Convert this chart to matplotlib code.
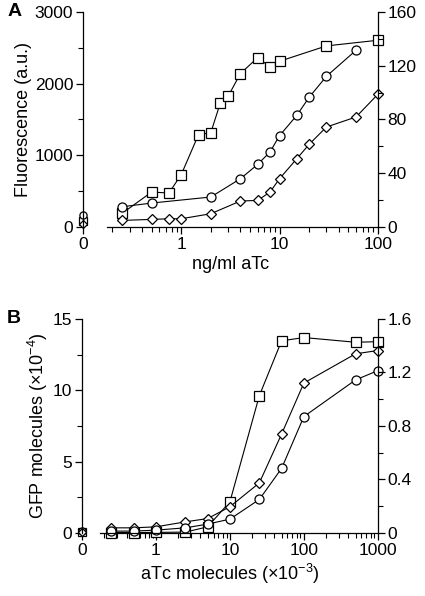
import matplotlib
matplotlib.use("Agg")
import matplotlib.pyplot as plt
from matplotlib.ticker import FixedLocator, LogLocator, NullFormatter, MultipleLocator

plt.rcParams['font.family'] = ['Liberation Sans', 'DejaVu Sans']
plt.rcParams['mathtext.fontset'] = 'custom'
plt.rcParams['mathtext.rm'] = 'Liberation Sans'
plt.rcParams['mathtext.it'] = 'Liberation Sans'

# ---- panel A: fluorescence vs ng/ml aTc ----
a_sq_x = [0.25, 0.5, 0.75, 1, 1.5, 2, 2.5, 3, 4, 6, 8, 10, 30, 100]
a_sq_y = [190, 488, 475, 730, 1288, 1316, 1730, 1823, 2140, 2363, 2233, 2312, 2526, 2605]
a_ci_x = [0.25, 0.5, 2, 4, 6, 8, 10, 15, 20, 30, 60]
a_ci_y = [283, 335, 419, 674, 874, 1047, 1274, 1558, 1809, 2102, 2465]
a_di_x = [0.25, 0.5, 0.75, 1, 2, 4, 6, 8, 10, 15, 20, 30, 60, 100]
a_di_y = [93, 107, 116, 116, 186, 363, 372, 488, 674, 953, 1153, 1395, 1535, 1851]
a_zero = {'s': 90, 'o': 170, 'D': 40}   # values at 0 ng/ml

# ---- panel B: GFP molecules vs aTc molecules ----
b_x = [0.25, 0.5, 1, 2.5, 5, 10, 25, 50, 100, 500, 1000]
b_sq_y = [0.02, 0.02, 0.03, 0.05, 0.42, 2.18, 9.62, 13.46, 13.69, 13.36, 13.40]
b_di_y = [0.35, 0.35, 0.42, 0.77, 1.0, 1.83, 3.5, 6.93, 10.5, 12.55, 12.78]
b_ci_y = [0.12, 0.12, 0.19, 0.35, 0.61, 0.96, 2.34, 4.52, 8.15, 10.72, 11.37]
b_zero = {'s': 0.05, 'o': 0.1, 'D': 0.08}

ZERO = 0.1  # where the "0" concentration sits on the log axis

fig = plt.figure(figsize=(4.25, 5.96), dpi=100)
axA = fig.add_axes([0.195, 0.619, 0.694, 0.361])
axB = fig.add_axes([0.193, 0.106, 0.696, 0.359])

mk = dict(color='black', lw=0.8, mfc='white', mec='black', mew=0.9, clip_on=False)
sizes = {'s': 6.5, 'o': 6.5, 'D': 5}


def style(ax, xmax, ylim, ymajor, yminor, rlim, rmajor, rminor, xlabel, ylabel, letter):
    ax.set_xscale('log')
    ax.set_xlim(ZERO, xmax)
    ax.set_ylim(*ylim)
    ax.spines['top'].set_visible(False)
    ax.spines['right'].set_visible(False)
    ax.spines['bottom'].set_bounds(0.175, xmax)
    ax.spines['left'].set_linewidth(0.9)
    ax.spines['bottom'].set_linewidth(0.9)
    decades = [1, 10, 100, 1000]
    decades = [d for d in decades if d <= xmax]
    ax.xaxis.set_major_locator(FixedLocator([ZERO] + decades))
    ax.set_xticklabels(['0'] + [str(d) for d in decades])
    ax.xaxis.set_minor_locator(LogLocator(base=10, subs=range(2, 10), numticks=20))
    ax.xaxis.set_minor_formatter(NullFormatter())
    ax.yaxis.set_major_locator(MultipleLocator(ymajor))
    ax.yaxis.set_minor_locator(MultipleLocator(yminor))
    ax.tick_params(which='major', length=5, width=0.9, labelsize=12.5, direction='out', pad=2)
    ax.tick_params(which='minor', length=3.5, width=0.8, direction='out')
    ax.set_xlabel(xlabel, fontsize=13, labelpad=3)
    ax.set_ylabel(ylabel, fontsize=13, labelpad=2)

    tw = ax.twinx()
    tw.set_ylim(*rlim)
    for s in ['top', 'left', 'bottom']:
        tw.spines[s].set_visible(False)
    tw.spines['right'].set_linewidth(0.9)
    tw.yaxis.set_major_locator(MultipleLocator(rmajor))
    tw.yaxis.set_minor_locator(MultipleLocator(rminor))
    tw.tick_params(which='major', length=5, width=0.9, labelsize=12.5, direction='out', pad=2)
    tw.tick_params(which='minor', length=3.5, width=0.8, direction='out')
    ax.text(-0.255, 1.0, letter, transform=ax.transAxes, fontsize=14,
            fontweight='bold', va='center', ha='left')
    return tw


# panel A
axA.plot(a_sq_x, a_sq_y, marker='s', ms=sizes['s'], **mk)
axA.plot(a_ci_x, a_ci_y, marker='o', ms=sizes['o'], **mk)
axA.plot(a_di_x, a_di_y, marker='D', ms=sizes['D'], **mk)
for m, v in a_zero.items():
    axA.plot([ZERO], [v], marker=m, ms=sizes[m] * 0.8, ls='none', **mk)
style(axA, 100, (0, 3000), 1000, 500, (0, 160), 40, 20,
      'ng/ml aTc', 'Fluorescence (a.u.)', 'A')
axA.yaxis.set_major_formatter(matplotlib.ticker.FormatStrFormatter('%d'))

# panel B
axB.plot(b_x, b_sq_y, marker='s', ms=sizes['s'], **mk)
axB.plot(b_x, b_di_y, marker='D', ms=sizes['D'], **mk)
axB.plot(b_x, b_ci_y, marker='o', ms=sizes['o'], **mk)
for m, v in b_zero.items():
    axB.plot([ZERO], [v], marker=m, ms=sizes[m] * 0.8, ls='none', **mk)
twB = style(axB, 1000, (0, 15), 5, 2.5, (0, 1.6), 0.4, 0.2,
            r'aTc molecules ($\times$10$^{-3}$)', r'GFP molecules ($\times$10$^{-4}$)', 'B')
axB.yaxis.set_major_formatter(matplotlib.ticker.FormatStrFormatter('%d'))
twB.yaxis.set_major_formatter(matplotlib.ticker.FuncFormatter(
    lambda v, p: '0' if abs(v) < 1e-9 else f'{v:.1f}'))

fig.savefig('out.png', dpi=100)
